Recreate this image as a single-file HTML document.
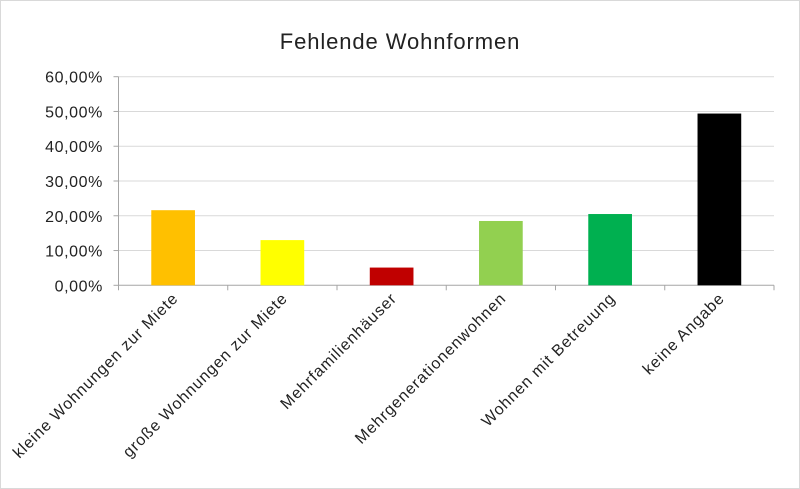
<!DOCTYPE html>
<html><head><meta charset="utf-8"><style>
body{margin:0;background:#fff}
svg{display:block;font-family:"Liberation Sans",sans-serif}
</style></head><body>
<svg id="c" width="800" height="489">
<rect x="0.5" y="0.5" width="799" height="488" fill="#fff" stroke="#d9d9d9"/>
<text x="400" y="49" text-anchor="middle" font-size="22" letter-spacing="0.9" fill="#222">Fehlende Wohnformen</text>
</svg>
<script>
const categories=["kleine Wohnungen zur Miete","große Wohnungen zur Miete","Mehrfamilienhäuser","Mehrgenerationenwohnen","Wohnen mit Betreuung","keine Angabe"];
const values=[21.6,13.0,5.1,18.5,20.5,49.4];
const colors=["#ffc000","#ffff00","#c00000","#92d050","#00b050","#000000"];
const ticks=[0,10,20,30,40,50,60];
const tickLabels=["0,00%","10,00%","20,00%","30,00%","40,00%","50,00%","60,00%"];
const svg=document.getElementById('c');const NS="http://www.w3.org/2000/svg";
const X0=118.5,X1=774,Y0=285.3,Y1=76.7,MAX=60;
const y=v=>Y0-(v/MAX)*(Y0-Y1);
const bw=(X1-X0)/categories.length;
const x=i=>X0+bw*i;
function mk(t,a){const e=document.createElementNS(NS,t);for(const k in a)e.setAttribute(k,a[k]);svg.appendChild(e);return e;}
ticks.forEach((t,i)=>{
 const g=mk('line',{x1:X0,x2:X1,y1:y(t),y2:y(t),stroke:t===0?'#a6a6a6':'#d9d9d9','stroke-width':1});
 
 
 const tk=mk('line',{x1:X0-5,x2:X0,y1:y(t),y2:y(t),stroke:'#a6a6a6'});
 
 
 const l=mk('text',{x:103,y:y(t)+6,'text-anchor':'end','font-size':16,'letter-spacing':0.6,fill:'#222'});
 l.textContent=tickLabels[i];
 
 
});
const ax=mk('line',{x1:X0,x2:X0,y1:Y1,y2:Y0,stroke:'#a6a6a6'});


for(let i=0;i<=categories.length;i++){
 const t=mk('line',{x1:x(i),x2:x(i),y1:Y0,y2:Y0+5,stroke:'#a6a6a6'});
 
 
}
values.forEach((v,i)=>{
 const w=bw*0.4;
 const r=mk('rect',{x:x(i)+bw/2-w/2,y:y(v),width:w,height:Y0-y(v),fill:colors[i]});
 
 
 const cx=x(i)+bw/2+6,cy=Y0+14;
 const l=mk('text',{x:cx,y:cy,'text-anchor':'end','font-size':16,'letter-spacing':0.9,fill:'#222',transform:`rotate(-45 ${cx} ${cy})`});
 l.textContent=categories[i];
 
 
});
</script>
</body></html>
